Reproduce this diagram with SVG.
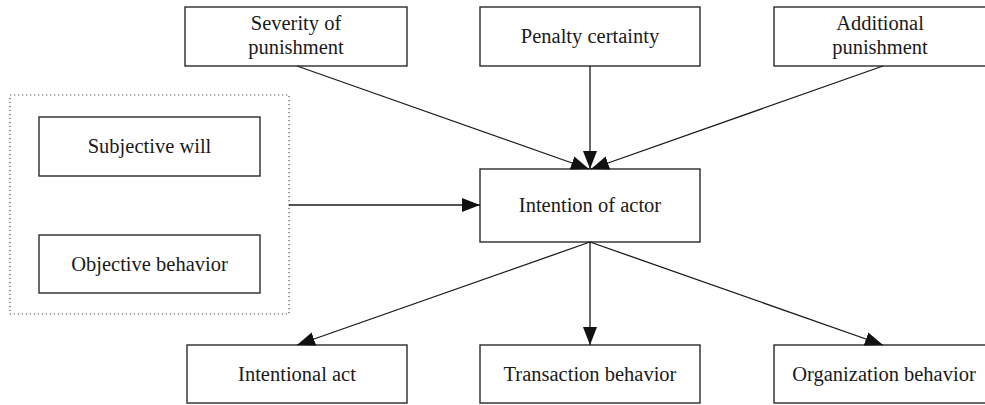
<svg xmlns="http://www.w3.org/2000/svg" width="985" height="405" viewBox="0 0 985 405">
  <defs>
    <style>
      .box { fill: #ffffff; stroke: #2a2a2a; stroke-width: 1.4; }
      .lbl { font-family: "Liberation Serif", "Times New Roman", serif; font-size: 20.5px; fill: #1a1a1a; text-anchor: middle; }
      .edge { fill: none; stroke: #1a1a1a; stroke-width: 1.3; marker-end: url(#arrow); }
      .group { fill: none; stroke: #555555; stroke-width: 1.2; stroke-dasharray: 1.2 2.8; }
    </style>
    <marker id="arrow" markerUnits="userSpaceOnUse" markerWidth="18" markerHeight="14" viewBox="0 0 18 14" refX="18" refY="7" orient="auto">
      <path d="M0,0 L18,7 L0,14 Z" fill="#111111"/>
    </marker>
  </defs>
  <rect width="985" height="405" fill="#ffffff"/>

  <!-- dotted grouping frame -->
  <rect class="group" x="10" y="95" width="279" height="219"/>

  <g id="severity">
    <rect class="box" x="185" y="7" width="222" height="59"/>
    <text class="lbl" x="296" y="30">Severity of</text>
    <text class="lbl" x="296" y="54">punishment</text>
  </g>
  <g id="penalty">
    <rect class="box" x="480" y="7" width="220" height="59"/>
    <text class="lbl" x="590" y="43">Penalty certainty</text>
  </g>
  <g id="additional">
    <rect class="box" x="774" y="7" width="220" height="59"/>
    <text class="lbl" x="880" y="30">Additional</text>
    <text class="lbl" x="880" y="54">punishment</text>
  </g>
  <g id="subjective">
    <rect class="box" x="39" y="117" width="221" height="59"/>
    <text class="lbl" x="149.5" y="153">Subjective will</text>
  </g>
  <g id="objective">
    <rect class="box" x="39" y="235" width="221" height="58"/>
    <text class="lbl" x="149.5" y="271">Objective behavior</text>
  </g>
  <g id="intention">
    <rect class="box" x="480" y="169" width="220" height="73"/>
    <text class="lbl" x="590" y="212">Intention of actor</text>
  </g>
  <g id="intentional-act">
    <rect class="box" x="187" y="345" width="220" height="58"/>
    <text class="lbl" x="297" y="381">Intentional act</text>
  </g>
  <g id="transaction">
    <rect class="box" x="480" y="345" width="220" height="58"/>
    <text class="lbl" x="590" y="381">Transaction behavior</text>
  </g>
  <g id="organization">
    <rect class="box" x="774" y="345" width="220" height="58"/>
    <text class="lbl" x="884" y="381">Organization behavior</text>
  </g>

  <g id="connectors">
    <line class="edge" x1="297" y1="66" x2="589" y2="169"/>
    <line class="edge" x1="590" y1="66" x2="590" y2="169"/>
    <line class="edge" x1="883" y1="66" x2="591" y2="169"/>
    <line class="edge" x1="289" y1="205" x2="480" y2="205"/>
    <line class="edge" x1="590" y1="242" x2="297" y2="345"/>
    <line class="edge" x1="590" y1="242" x2="590" y2="345"/>
    <line class="edge" x1="590" y1="242" x2="883" y2="345"/>
  </g>
</svg>
